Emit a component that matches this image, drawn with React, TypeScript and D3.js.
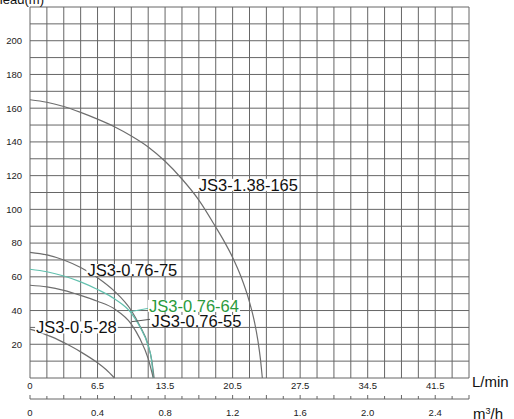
import * as d3 from 'd3'
import {useLayoutEffect, useRef, useState} from 'react'

const width = 514
const height = 419

// flow in m³/h, head in m
const flow165 = [0, 0.1, 0.2, 0.3, 0.4, 0.5, 0.6, 0.7, 0.8, 0.9, 1.0, 1.1, 1.15, 1.2, 1.25, 1.3, 1.33, 1.35, 1.365, 1.376]
const head165 = [165, 163.5, 161, 157.5, 153.5, 149, 143.5, 137, 128.5, 118, 105.5, 89.5, 81, 71.5, 60, 45, 33, 22, 11, 0]

const flow75 = [0, 0.1, 0.2, 0.3, 0.4, 0.5, 0.6, 0.65, 0.7, 0.72, 0.735]
const head75 = [74.5, 73, 70, 65.5, 59.5, 51.5, 40, 31, 19.5, 11, 0]

const flow64 = [0, 0.1, 0.2, 0.3, 0.4, 0.5, 0.6, 0.65, 0.7, 0.72, 0.73]
const head64 = [64.5, 63, 60.5, 57, 52.5, 47, 38.5, 30.5, 19, 10.5, 0]

const flow55 = [0, 0.1, 0.2, 0.3, 0.4, 0.5, 0.6, 0.65, 0.7, 0.73]
const head55 = [55, 54, 52, 49, 45.5, 41, 32, 23.5, 11.5, 0]

const flow28 = [0, 0.05, 0.1, 0.15, 0.2, 0.3, 0.4, 0.45, 0.5]
const head28 = [29, 27.5, 25.5, 23.5, 21, 15.5, 9, 5, 0]

const headTicks = [20, 40, 60, 80, 100, 120, 140, 160, 180, 200]
const flowTicks = [0, 0.4, 0.8, 1.2, 1.6, 2.0, 2.4]
const lminLabels = ['0', '6.5', '13.5', '20.5', '27.5', '34.5', '41.5']
const m3hLabels = ['0', '0.4', '0.8', '1.2', '1.6', '2.0', '2.4']

const curves = [
  {name: 'JS3-1.38-165', flow: flow165, head: head165, color: '#6e6e6e'},
  {name: 'JS3-0.76-75', flow: flow75, head: head75, color: '#6e6e6e'},
  {name: 'JS3-0.76-64', flow: flow64, head: head64, color: '#62c0ae'},
  {name: 'JS3-0.76-55', flow: flow55, head: head55, color: '#6e6e6e'},
  {name: 'JS3-0.5-28', flow: flow28, head: head28, color: '#6e6e6e'},
]

// label anchors in data coords [flow, head]
const labels = [
  {text: 'JS3-1.38-165', at: [1.0, 111], color: '#111'},
  {text: 'JS3-0.76-75', at: [0.34, 60.5], color: '#111'},
  {text: 'JS3-0.76-64', at: [0.705, 39.2], color: '#2a9a3c'},
  {text: 'JS3-0.76-55', at: [0.72, 30.3], color: '#111'},
  {text: 'JS3-0.5-28', at: [0.036, 26.4], color: '#111'},
]

const leaders = [
  {from: [0.592, 39.3], to: [0.705, 41.4], color: '#62c0ae'},
  {from: [0.602, 33.4], to: [0.711, 34.8], color: '#555'},
]

const FONT = 'Liberation Sans, Arial, sans-serif'

function Label({x, y, text, color}: {x: number; y: number; text: string; color: string}) {
  const ref = useRef<SVGTextElement>(null)
  const [box, setBox] = useState<DOMRect | null>(null)
  useLayoutEffect(() => {
    if (ref.current) setBox(ref.current.getBBox())
  }, [text])
  return (
    <g>
      {box && (
        <rect x={box.x - 1} y={box.y + 3} width={box.width + 2} height={box.height - 6} fill="#fff" />
      )}
      <text ref={ref} x={x} y={y} fontSize={16.5} fill={color} fontFamily={FONT}>
        {text}
      </text>
    </g>
  )
}

export default function App() {
  const left = 30
  const right = 469
  const top = 7
  const bottom = 378

  const x = d3.scaleLinear().domain([0, 2.6]).range([left, right])
  const y = d3.scaleLinear().domain([0, 220]).range([bottom, top])

  const gridX = d3.range(0, 27).map(i => i / 10)
  const gridY = d3.range(0, 23).map(i => i * 10)

  const line = d3.line<[number, number]>()
    .x(d => x(d[0]))
    .y(d => y(d[1]))
    .curve(d3.curveMonotoneX)

  const axisY = 399

  return (
    <svg width={width} height={height} style={{position: 'absolute', left: 0, top: 0, background: '#fff'}}>
      <rect width={width} height={height} fill="#fff" />
      <g stroke="#666" strokeWidth={1}>
        {gridX.map(v => (
          <line key={'gx' + v} x1={x(v)} x2={x(v)} y1={top} y2={bottom} />
        ))}
        {gridY.map(v => (
          <line key={'gy' + v} x1={left} x2={right} y1={y(v)} y2={y(v)} />
        ))}
      </g>

      {curves.map(c => (
        <path
          key={c.name}
          d={line(c.flow.map((f, i) => [f, c.head[i]] as [number, number])) ?? undefined}
          fill="none"
          stroke={c.color}
          strokeWidth={1.2}
        />
      ))}

      {leaders.map((l, i) => (
        <line key={i} x1={x(l.from[0])} y1={y(l.from[1])} x2={x(l.to[0])} y2={y(l.to[1])} stroke={l.color} strokeWidth={1} />
      ))}

      {labels.map(l => (
        <Label key={l.text} x={x(l.at[0])} y={y(l.at[1])} text={l.text} color={l.color} />
      ))}

      <g fontFamily={FONT} fontSize={9.5} fill="#222">
        {headTicks.map(v => (
          <text key={v} x={22} y={y(v)} dy="0.35em" textAnchor="end">{v}</text>
        ))}
        {flowTicks.map((v, i) => (
          <text key={'l' + v} x={x(v)} y={386} dy="0.35em" textAnchor="middle">{lminLabels[i]}</text>
        ))}
        {flowTicks.map((v, i) => (
          <text key={'m' + v} x={x(v)} y={413} dy="0.35em" textAnchor="middle">{m3hLabels[i]}</text>
        ))}
      </g>

      <g stroke="#666" strokeWidth={1}>
        <line x1={left} x2={right} y1={axisY} y2={axisY} />
        {gridX.map((v, i) => (
          <line key={'t' + v} x1={x(v)} x2={x(v)} y1={axisY} y2={axisY - (i % 2 === 0 ? 4 : 3)} />
        ))}
      </g>

      <g fontFamily={FONT} fill="#111">
        <text x={44} y={3.5} fontSize={13} textAnchor="end">Head(m)</text>
        <text x={472} y={387} fontSize={15}>L/min</text>
        <text x={473} y={419} fontSize={15}>
          m<tspan dy={-5} fontSize={9}>3</tspan><tspan dy={5}>/h</tspan>
        </text>
      </g>
    </svg>
  )
}
